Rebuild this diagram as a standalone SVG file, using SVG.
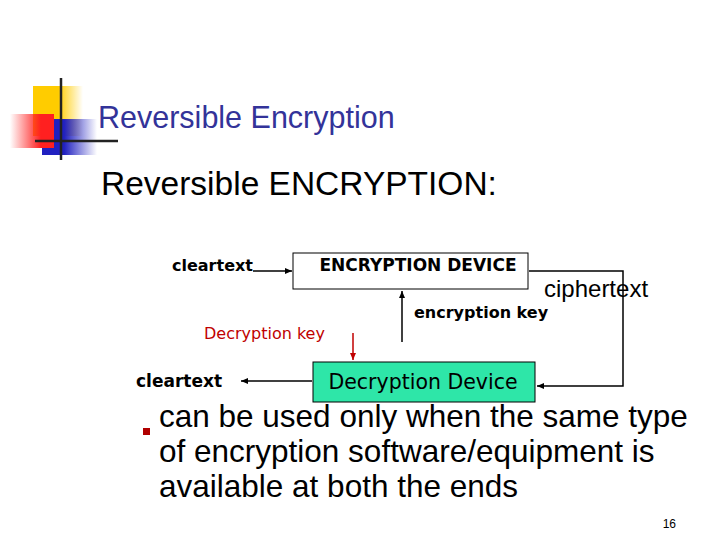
<svg xmlns="http://www.w3.org/2000/svg" width="720" height="540" viewBox="0 0 720 540">
<style>
.s{font-family:"Liberation Sans",Arial,sans-serif}
.t{font-family:Tahoma,"DejaVu Sans",sans-serif}
.ln{stroke:#000;stroke-width:1.5;fill:none}
</style>
<defs>
<marker id="a" markerWidth="8" markerHeight="8" refX="7" refY="4" orient="auto" markerUnits="userSpaceOnUse"><path d="M0,1 L7,4 L0,7 z" fill="#000"/></marker>
<marker id="r" markerWidth="8" markerHeight="8" refX="7" refY="4" orient="auto" markerUnits="userSpaceOnUse"><path d="M0,1 L7,4 L0,7 z" fill="#c00000"/></marker>
<linearGradient id="gy" x1="0" x2="1"><stop offset="0.5" stop-color="#ffcc00"/><stop offset="1" stop-color="#ffcc00" stop-opacity="0"/></linearGradient>
<linearGradient id="gb" x1="0" x2="1"><stop offset="0.4" stop-color="#2020c0"/><stop offset="1" stop-color="#2020c0" stop-opacity="0"/></linearGradient>
<linearGradient id="gr" x1="1" x2="0"><stop offset="0.3" stop-color="#ff2020"/><stop offset="1" stop-color="#ff2020" stop-opacity="0"/></linearGradient>
</defs>
<rect width="720" height="540" fill="#fff"/>
<g id="logo">
<rect x="33" y="86" width="50" height="50" fill="url(#gy)"/>
<rect x="42" y="119" width="55" height="36" fill="url(#gb)"/>
<rect x="10" y="114" width="44" height="34" fill="url(#gr)"/>
<line x1="61" y1="78" x2="61" y2="160" stroke="#222" stroke-width="2.5"/>
<line x1="35" y1="141" x2="118" y2="141" stroke="#222" stroke-width="2.5"/>
</g>
<text x="98" y="128" class="s" font-size="30.5" fill="#333399">Reversible Encryption</text>
<text x="101" y="195" class="s" font-size="33.5">Reversible ENCRYPTION:</text>
<g id="enc"><rect x="293" y="253" width="235" height="36" fill="#fff" stroke="#000"/>
<text x="418" y="271" class="t" font-size="17" font-weight="bold" text-anchor="middle">ENCRYPTION DEVICE</text></g>
<g id="dec"><rect x="313" y="362" width="222" height="40" fill="#2ee6a8" stroke="#000"/>
<text x="423" y="389" class="t" font-size="20.5" text-anchor="middle">Decryption Device</text></g>
<text x="172" y="271" class="t" font-size="16" font-weight="bold">cleartext</text>
<text x="136" y="387" class="t" font-size="17" font-weight="bold">cleartext</text>
<text x="544" y="297" class="s" font-size="24">ciphertext</text>
<text x="414" y="318" class="t" font-size="16" font-weight="bold">encryption key</text>
<text x="204" y="339" class="t" font-size="16" fill="#c00000">Decryption key</text>
<g id="connectors">
<line x1="253" y1="271" x2="292" y2="271" class="ln" marker-end="url(#a)"/>
<polyline points="529,271 623,271 623,386 537,386" class="ln" marker-end="url(#a)"/>
<line x1="312" y1="381" x2="241" y2="381" class="ln" marker-end="url(#a)"/>
<line x1="402" y1="342" x2="402" y2="291" class="ln" marker-end="url(#a)"/>
<line x1="353" y1="333" x2="353" y2="360" stroke="#c00000" stroke-width="1.5" marker-end="url(#r)"/>
</g>
<rect x="143" y="428" width="7" height="7" fill="#b00000"/>
<g class="s" font-size="31.5">
<text x="159" y="427">can be used only when the same type</text>
<text x="159" y="462">of encryption software/equipment is</text>
<text x="159" y="497">available at both the ends</text>
</g>
<text x="676" y="528" class="s" font-size="12" text-anchor="end">16</text>
</svg>
